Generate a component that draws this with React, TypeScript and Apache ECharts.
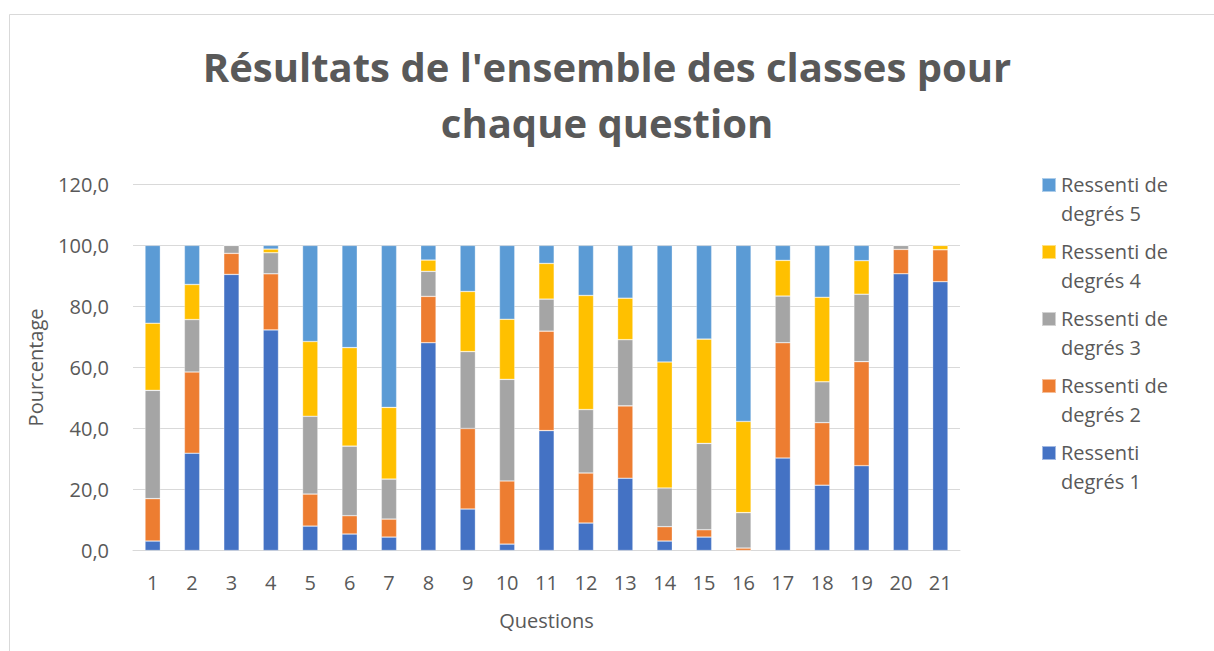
import React, { useEffect, useRef } from "react";
import * as echarts from "echarts";

const questions = ["1","2","3","4","5","6","7","8","9","10","11","12","13","14","15","16","17","18","19","20","21"];
const seriesNames = ["Ressenti degrés 1", "Ressenti de degrés 2", "Ressenti de degrés 3", "Ressenti de degrés 4", "Ressenti de degrés 5"];
const degre1 = [3.1, 31.9, 90.5, 72.3, 8.0, 5.4, 4.4, 68.1, 13.6, 2.1, 39.3, 9.0, 23.7, 3.1, 4.4, 0, 30.3, 21.4, 27.8, 90.7, 88.1];
const degre2 = [13.9, 26.6, 6.9, 18.4, 10.5, 6.0, 5.9, 15.2, 26.4, 20.7, 32.6, 16.4, 23.7, 4.7, 2.4, 0.8, 37.8, 20.5, 34.1, 8.0, 10.5];
const degre3 = [35.5, 17.2, 2.6, 6.9, 25.5, 22.8, 13.1, 8.2, 25.2, 33.3, 10.5, 20.8, 21.7, 12.7, 28.3, 11.6, 15.3, 13.4, 22.1, 1.3, 0];
const degre4 = [22.0, 11.5, 0, 1.2, 24.5, 32.3, 23.5, 3.7, 19.7, 19.7, 11.7, 37.4, 13.6, 41.3, 34.2, 29.9, 11.7, 27.7, 11.0, 0, 1.4];
const degre5 = [25.5, 12.8, 0, 1.2, 31.5, 33.5, 53.1, 4.8, 15.1, 24.2, 5.9, 16.4, 17.3, 38.2, 30.7, 57.7, 4.9, 17.0, 5.0, 0, 0];
const colors = ["#4472C4", "#ED7D31", "#A5A5A5", "#FFC000", "#5B9BD5"];

const FONT = "'Open Sans', 'Noto Sans', sans-serif";
const TXT = "#595959";

export default function App() {
  const ref = useRef<HTMLDivElement>(null);
  useEffect(() => {
    document.body.style.margin = "0";
    const chart = echarts.init(ref.current!, undefined, { renderer: "svg" });
    const values = [degre1, degre2, degre3, degre4, degre5];
    chart.setOption({
      animation: false,
      backgroundColor: "#ffffff",
      textStyle: { fontFamily: FONT, color: TXT },
      title: {
        text: "Résultats de l'ensemble des classes pour\nchaque question",
        left: "center",
        top: 38,
        padding: [0, 0, 0, 16],
        textStyle: {
          fontFamily: FONT,
          fontWeight: "bold",
          fontSize: 40,
          lineHeight: 56,
          color: TXT,
        },
      },
      graphic: [
        {
          type: "rect",
          shape: { x: 9.5, y: 14.5, width: 1300, height: 700 },
          style: { fill: "none", stroke: "#d9d9d9", lineWidth: 1 },
          silent: true,
          z: -10,
        },
      ],
      legend: {
        orient: "vertical",
        left: 1041,
        top: 170,
        padding: 0,
        itemGap: 9,
        itemWidth: 14,
        itemHeight: 43,
        itemTextGap: 5,
        icon: "path://M0,0L10,0L10,10L0,10Z M0,29.95L0.05,30L0,30Z",
        data: ["Ressenti de degrés 5", "Ressenti de degrés 4", "Ressenti de degrés 3", "Ressenti de degrés 2", "Ressenti degrés 1"],
        formatter: (name: string) => name.replace(" degrés", "\ndegrés"),
        textStyle: { fontFamily: FONT, fontSize: 20, lineHeight: 29, color: TXT },
      },
      grid: { left: 133, right: 254, top: 184.4, bottom: 100.5, containLabel: false },
      xAxis: {
        type: "category",
        data: questions,
        name: "Questions",
        nameLocation: "middle",
        nameGap: 60,
        nameTextStyle: { fontFamily: FONT, fontSize: 20, color: TXT },
        axisLine: { show: true, lineStyle: { color: "#d9d9d9", width: 1 } },
        axisTick: { show: false },
        axisLabel: { fontFamily: FONT, fontSize: 20, color: TXT, margin: 22, interval: 0 },
      },
      yAxis: {
        type: "value",
        min: 0,
        max: 120,
        interval: 20,
        name: "Pourcentage",
        nameLocation: "middle",
        nameGap: 88,
        nameTextStyle: { fontFamily: FONT, fontSize: 20, color: TXT },
        axisLine: { show: false },
        axisTick: { show: false },
        splitLine: { lineStyle: { color: "#d9d9d9", width: 1 } },
        axisLabel: {
          fontFamily: FONT,
          fontSize: 20,
          color: TXT,
          margin: 24,
          formatter: (v: number) => v.toFixed(1).replace(".", ","),
        },
      },
      series: seriesNames.map((name, i) => ({
        name,
        type: "bar",
        stack: "total",
        barCategoryGap: "61%",
        data: values[i],
        itemStyle: { color: colors[i], borderColor: "rgba(255,255,255,0.5)", borderWidth: 0.6 },
      })),
    });
    return () => chart.dispose();
  }, []);
  return <div ref={ref} style={{ width: 1214, height: 651 }} />;
}
